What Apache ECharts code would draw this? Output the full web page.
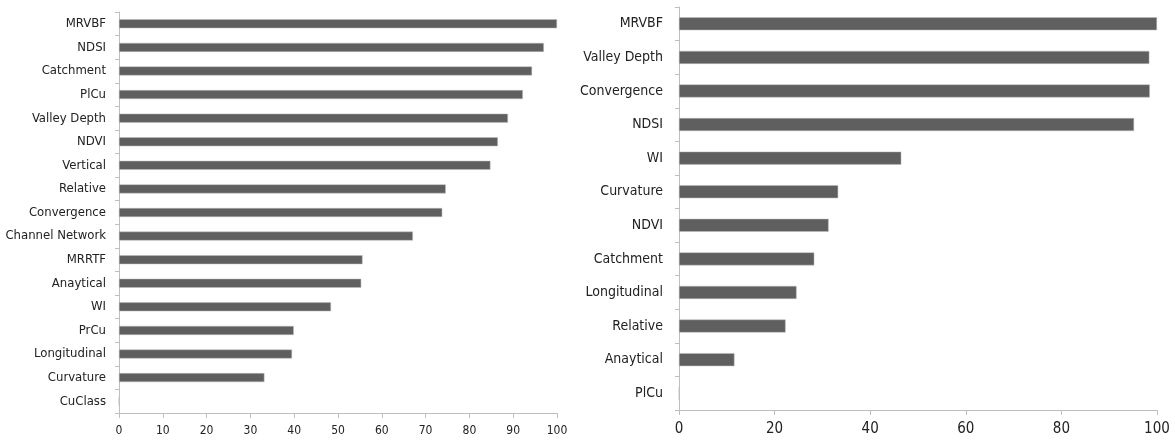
<!DOCTYPE html>
<html>
<head>
<meta charset="utf-8">
<script src="https://cdn.jsdelivr.net/npm/echarts@6/dist/echarts.min.js"></script>
<style>
  html, body { margin: 0; padding: 0; background: #fff; }
  #main { width: 1175px; height: 441px; }
</style>
</head>
<body>
<div id="main"></div>
<script>
// 左图：类别（自上而下）与数值
var leftNames = ['MRVBF', 'NDSI', 'Catchment', 'PlCu', 'Valley Depth', 'NDVI', 'Vertical', 'Relative',
    'Convergence', 'Channel Network', 'MRRTF', 'Anaytical', 'WI', 'PrCu', 'Longitudinal', 'Curvature', 'CuClass'];
var leftValues = [100, 97.0, 94.3, 92.2, 88.8, 86.5, 84.8, 74.6, 73.8, 67.1, 55.6, 55.3, 48.4, 39.9, 39.5, 33.2, 0];

// 右图
var rightNames = ['MRVBF', 'Valley Depth', 'Convergence', 'NDSI', 'WI', 'Curvature', 'NDVI', 'Catchment',
    'Longitudinal', 'Relative', 'Anaytical', 'PlCu'];
var rightValues = [100, 98.4, 98.5, 95.2, 46.5, 33.3, 31.3, 28.3, 24.6, 22.3, 11.6, 0];

var font = "'Liberation Sans Narrow', 'DejaVu Sans Condensed', sans-serif";
var axisColor = '#bfbfbf';
var barColor = '#5f5f5f';

var chart = echarts.init(document.getElementById('main'));

function valueAxis(gridIndex, interval, size, margin) {
    return {
        type: 'value',
        gridIndex: gridIndex,
        min: 0,
        max: 100,
        interval: interval,
        splitLine: { show: false },
        axisLine: { show: true, lineStyle: { color: axisColor, width: 1 } },
        axisTick: { show: true, length: 5, lineStyle: { color: axisColor } },
        axisLabel: { color: '#222', fontFamily: font, fontSize: size, margin: margin }
    };
}

function categoryAxis(gridIndex, names, size, margin) {
    return {
        type: 'category',
        gridIndex: gridIndex,
        data: names,
        inverse: true,
        axisLine: { show: true, lineStyle: { color: axisColor, width: 1 } },
        axisTick: { show: true, length: 4, lineStyle: { color: axisColor } },
        axisLabel: { color: '#222', fontFamily: font, fontSize: size, margin: margin }
    };
}

var option = {
    animation: false,
    grid: [
        { left: 119, right: 618, top: 12, bottom: 28, outerBoundsMode: 'none', containLabel: false },
        { left: 679, right: 18, top: 7, bottom: 31, outerBoundsMode: 'none', containLabel: false }
    ],
    xAxis: [
        valueAxis(0, 10, 12, 12),
        valueAxis(1, 20, 15, 12)
    ],
    yAxis: [
        categoryAxis(0, leftNames, 13, 13),
        categoryAxis(1, rightNames, 14, 16)
    ],
    series: [
        {
            type: 'bar',
            xAxisIndex: 0,
            yAxisIndex: 0,
            data: leftValues,
            barWidth: 9,
            itemStyle: { color: barColor, borderColor: '#bdbdbd', borderWidth: 0.5 }
        },
        {
            type: 'bar',
            xAxisIndex: 1,
            yAxisIndex: 1,
            data: rightValues,
            barWidth: 13,
            itemStyle: { color: barColor, borderColor: '#bdbdbd', borderWidth: 0.5 }
        }
    ]
};

chart.setOption(option);
</script>
</body>
</html>
